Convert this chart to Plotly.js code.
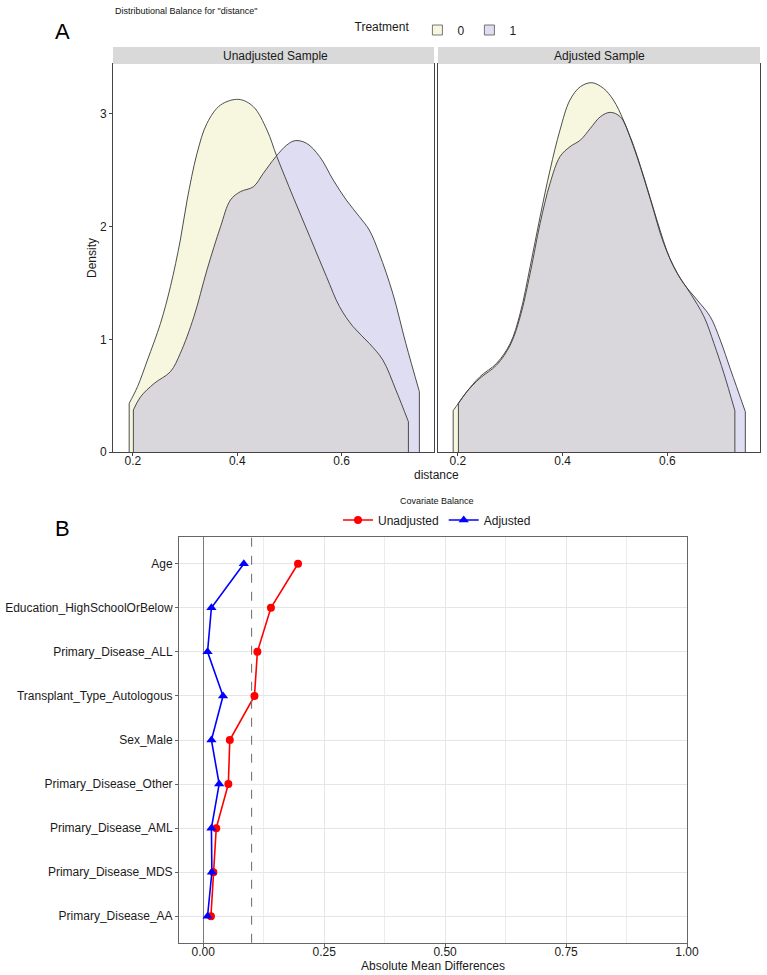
<!DOCTYPE html>
<html>
<head>
<meta charset="utf-8">
<script src="https://cdn.plot.ly/plotly-3.0.1.min.js"></script>
<style>
  html, body { margin: 0; padding: 0; background: #ffffff; }
  #chart { width: 767px; height: 975px; }
</style>
</head>
<body>
<div id="chart"></div>
<script>
// ---- Panel A: propensity-score ("distance") densities by treatment ----
const unadjX0 = [0.193, 0.209, 0.228, 0.253, 0.272, 0.291, 0.304, 0.323, 0.342, 0.368, 0.403, 0.431, 0.457, 0.476, 0.507, 0.539, 0.571, 0.596, 0.622, 0.653, 0.679, 0.704, 0.728];
const unadjY0 = [0.432, 0.580, 0.816, 1.142, 1.467, 1.881, 2.236, 2.650, 2.916, 3.079, 3.129, 3.064, 2.857, 2.621, 2.265, 1.911, 1.556, 1.290, 1.112, 0.964, 0.816, 0.550, 0.269];
const unadjX1 = [0.201, 0.215, 0.241, 0.272, 0.291, 0.317, 0.342, 0.368, 0.387, 0.406, 0.431, 0.450, 0.474, 0.495, 0.511, 0.533, 0.558, 0.584, 0.609, 0.634, 0.653, 0.672, 0.698, 0.723, 0.749];
const unadjY1 = [0.373, 0.491, 0.609, 0.713, 0.876, 1.201, 1.615, 1.999, 2.236, 2.310, 2.354, 2.473, 2.621, 2.724, 2.763, 2.739, 2.621, 2.413, 2.236, 2.088, 1.970, 1.763, 1.408, 0.964, 0.535];
const adjX0 = [0.191, 0.201, 0.217, 0.242, 0.274, 0.300, 0.319, 0.338, 0.357, 0.376, 0.395, 0.414, 0.434, 0.456, 0.478, 0.497, 0.516, 0.542, 0.568, 0.593, 0.619, 0.644, 0.670, 0.689, 0.708, 0.729];
const adjY0 = [0.367, 0.432, 0.535, 0.668, 0.787, 0.964, 1.231, 1.644, 2.088, 2.502, 2.857, 3.123, 3.242, 3.277, 3.227, 3.123, 2.946, 2.621, 2.236, 1.852, 1.586, 1.408, 1.201, 0.964, 0.698, 0.367];
const adjX1 = [0.201, 0.217, 0.242, 0.274, 0.300, 0.319, 0.338, 0.357, 0.376, 0.395, 0.414, 0.434, 0.453, 0.472, 0.491, 0.510, 0.529, 0.555, 0.580, 0.606, 0.631, 0.657, 0.682, 0.701, 0.721, 0.749];
const adjY1 = [0.432, 0.535, 0.654, 0.772, 0.949, 1.201, 1.586, 2.029, 2.384, 2.621, 2.709, 2.768, 2.872, 2.975, 3.014, 2.975, 2.798, 2.443, 2.059, 1.704, 1.497, 1.349, 1.201, 0.994, 0.728, 0.358];
const treatmentLevels = ['0', '1'];
const densityTicks = [0, 1, 2, 3];
const distanceTicks = [0.2, 0.4, 0.6];

// ---- Panel B: covariate balance (absolute mean differences) ----
const covariates = ['Age', 'Education_HighSchoolOrBelow', 'Primary_Disease_ALL', 'Transplant_Type_Autologous', 'Sex_Male', 'Primary_Disease_Other', 'Primary_Disease_AML', 'Primary_Disease_MDS', 'Primary_Disease_AA'];
const unadjustedDiff = [0.196, 0.140, 0.112, 0.106, 0.055, 0.052, 0.027, 0.021, 0.016];
const adjustedDiff = [0.084, 0.017, 0.009, 0.041, 0.017, 0.033, 0.017, 0.018, 0.009];
const balanceThreshold = 0.1;
const amdTicks = [0, 0.25, 0.5, 0.75, 1];
const amdTickText = ['0.00', '0.25', '0.50', '0.75', '1.00'];

// ---- page geometry helpers (pixel -> paper fraction) ----
const W = 767, H = 975;
const fx = p => p / W;
const fy = p => 1 - p / H;

const FONT = '"Liberation Sans", Arial, Helvetica, sans-serif';
const TXT = '#1a1a1a';
const FILL0 = 'rgb(247,246,222)';
const FILL1 = 'rgba(166,161,216,0.36)';
const OUTLINE = '#3a3a3a';
const SMOOTH = 1.0;

// filled area under a density curve (outlines are drawn on top separately)
function densityArea(xs, ys, fill, xa, ya) {
  return {
    type: 'scatter', mode: 'lines', x: xs, y: ys, xaxis: xa, yaxis: ya,
    fill: 'tozeroy', fillcolor: fill,
    line: { shape: 'spline', smoothing: SMOOTH, width: 0, color: 'rgba(0,0,0,0)' },
    showlegend: false, hoverinfo: 'skip'
  };
}
// curve outline plus the vertical edges at both ends of the estimate
function densityOutline(xs, ys, xa, ya) {
  const n = xs.length - 1;
  return [
    { type: 'scatter', mode: 'lines', x: xs, y: ys, xaxis: xa, yaxis: ya,
      line: { shape: 'spline', smoothing: SMOOTH, width: 0.9, color: OUTLINE },
      showlegend: false, hoverinfo: 'skip' },
    { type: 'scatter', mode: 'lines', xaxis: xa, yaxis: ya,
      x: [xs[0], xs[0], null, xs[n], xs[n]],
      y: [0, ys[0], null, ys[n], 0],
      line: { width: 0.9, color: OUTLINE },
      showlegend: false, hoverinfo: 'skip' }
  ];
}
// boxed legend key for a treatment level (no points of its own)
function treatmentKey(name, fill) {
  return {
    type: 'scatter', mode: 'markers', x: [null], y: [null], xaxis: 'x', yaxis: 'y',
    name: name, legend: 'legend', showlegend: true, hoverinfo: 'skip',
    marker: { symbol: 'square', size: 10, color: fill, line: { color: '#555', width: 0.8 } }
  };
}

const traces = [
  densityArea(unadjX0, unadjY0, FILL0, 'x', 'y'),
  densityArea(unadjX1, unadjY1, FILL1, 'x', 'y'),
  densityArea(adjX0, adjY0, FILL0, 'x2', 'y2'),
  densityArea(adjX1, adjY1, FILL1, 'x2', 'y2'),
  ...densityOutline(unadjX0, unadjY0, 'x', 'y'),
  ...densityOutline(unadjX1, unadjY1, 'x', 'y'),
  ...densityOutline(adjX0, adjY0, 'x2', 'y2'),
  ...densityOutline(adjX1, adjY1, 'x2', 'y2'),
  treatmentKey(treatmentLevels[0], FILL0),
  treatmentKey(treatmentLevels[1], FILL1),
  {
    type: 'scatter', mode: 'lines+markers', name: 'Unadjusted', legend: 'legend2',
    x: unadjustedDiff, y: covariates, xaxis: 'x3', yaxis: 'y3',
    line: { color: '#ff0000', width: 1.6 },
    marker: { symbol: 'circle', size: 8, color: '#ff0000' }
  },
  {
    type: 'scatter', mode: 'lines+markers', name: 'Adjusted', legend: 'legend2',
    x: adjustedDiff, y: covariates, xaxis: 'x3', yaxis: 'y3',
    line: { color: '#0000ff', width: 1.6 },
    marker: { symbol: 'triangle-up', size: 9, color: '#0000ff' }
  }
];

const densAxisY = {
  range: [0, 3.443], showgrid: false, zeroline: false,
  showline: true, mirror: true, linecolor: '#444', linewidth: 1,
  ticks: 'outside', ticklen: 3, tickcolor: '#444',
  tickfont: { size: 12, color: TXT }
};
const densAxisX = {
  range: [0.162, 0.777], showgrid: false, zeroline: false,
  showline: true, mirror: true, linecolor: '#444', linewidth: 1,
  ticks: 'outside', ticklen: 3, tickcolor: '#444', ticklabelstandoff: -5,
  tickvals: distanceTicks, ticktext: distanceTicks.map(v => v.toFixed(1)),
  tickfont: { size: 12, color: TXT }
};

const layout = {
  width: W, height: H,
  margin: { l: 0, r: 0, t: 0, b: 0 },
  paper_bgcolor: '#ffffff', plot_bgcolor: '#ffffff',
  font: { family: FONT, color: TXT, size: 12 },
  xaxis: Object.assign({}, densAxisX, { domain: [fx(113), fx(434)], anchor: 'y' }),
  yaxis: Object.assign({}, densAxisY, {
    domain: [fy(452), fy(64)], anchor: 'x',
    tickvals: densityTicks, ticktext: densityTicks.map(String),
    title: { text: 'Density', font: { size: 12, color: TXT }, standoff: 0 }
  }),
  xaxis2: Object.assign({}, densAxisX, { domain: [fx(438), fx(760)], anchor: 'y2' }),
  yaxis2: Object.assign({}, densAxisY, {
    domain: [fy(452), fy(64)], anchor: 'x2',
    showticklabels: false, ticks: ''
  }),
  xaxis3: {
    domain: [fx(179), fx(687)], anchor: 'y3', range: [-0.05, 1.0],
    tickvals: amdTicks, ticktext: amdTickText,
    showgrid: true, gridcolor: '#e6e6e6', gridwidth: 1,
    minor: { tickvals: [0.125, 0.375, 0.625, 0.875], showgrid: true, gridcolor: '#ececec', gridwidth: 1 },
    zeroline: true, zerolinecolor: '#7a7a7a', zerolinewidth: 1,
    showline: true, mirror: true, linecolor: '#666', linewidth: 1,
    ticks: 'outside', ticklen: 3, tickcolor: '#666', ticklabelstandoff: -5,
    tickfont: { size: 12, color: TXT },
    title: { text: 'Absolute Mean Differences', font: { size: 12, color: TXT }, standoff: 2 }
  },
  yaxis3: {
    domain: [fy(942.7), fy(537.3)], anchor: 'x3', type: 'category',
    categoryorder: 'array', categoryarray: covariates,
    range: [covariates.length - 0.4, -0.6],
    showgrid: true, gridcolor: '#e6e6e6', gridwidth: 1,
    showline: true, mirror: true, linecolor: '#666', linewidth: 1,
    ticks: 'outside', ticklen: 3, tickcolor: '#666',
    tickfont: { size: 12, color: TXT }
  },
  legend: {
    orientation: 'h', x: fx(437), xanchor: 'center', y: fy(30), yanchor: 'middle',
    title: { text: 'Treatment', side: 'left', font: { size: 12, color: TXT } },
    font: { size: 12, color: TXT }, itemwidth: 30,
    bgcolor: 'rgba(0,0,0,0)'
  },
  legend2: {
    orientation: 'h', x: fx(437), xanchor: 'center', y: fy(520), yanchor: 'middle',
    font: { size: 12, color: TXT }, itemwidth: 30,
    bgcolor: 'rgba(0,0,0,0)'
  },
  shapes: [
    // facet strips
    { type: 'rect', xref: 'paper', yref: 'paper', x0: fx(113), x1: fx(434), y0: fy(64), y1: fy(47),
      fillcolor: '#d9d9d9', line: { width: 0 } },
    { type: 'rect', xref: 'paper', yref: 'paper', x0: fx(438), x1: fx(760), y0: fy(64), y1: fy(47),
      fillcolor: '#d9d9d9', line: { width: 0 } },
    // balance threshold
    { type: 'line', xref: 'x3', yref: 'y3 domain', x0: balanceThreshold, x1: balanceThreshold, y0: 0, y1: 1,
      line: { color: '#777', width: 1.1, dash: 'dash' } }
  ],
  annotations: [
    { text: 'Distributional Balance for "distance"', xref: 'paper', yref: 'paper',
      x: fx(113), y: fy(11), xanchor: 'left', yanchor: 'middle', showarrow: false,
      font: { size: 9, color: '#111' } },
    { text: 'A', xref: 'paper', yref: 'paper', x: fx(62), y: fy(31), xanchor: 'center', yanchor: 'middle',
      showarrow: false, font: { size: 22, color: '#000' } },
    { text: 'B', xref: 'paper', yref: 'paper', x: fx(62), y: fy(528), xanchor: 'center', yanchor: 'middle',
      showarrow: false, font: { size: 22, color: '#000' } },
    { text: 'Unadjusted Sample', xref: 'paper', yref: 'paper', x: fx(275), y: fy(55.5),
      xanchor: 'center', yanchor: 'middle', showarrow: false, font: { size: 12, color: TXT } },
    { text: 'Adjusted Sample', xref: 'paper', yref: 'paper', x: fx(599), y: fy(55.5),
      xanchor: 'center', yanchor: 'middle', showarrow: false, font: { size: 12, color: TXT } },
    { text: 'distance', xref: 'paper', yref: 'paper', x: fx(436), y: fy(475),
      xanchor: 'center', yanchor: 'middle', showarrow: false, font: { size: 12, color: TXT } },
    { text: 'Covariate Balance', xref: 'paper', yref: 'paper', x: fx(437), y: fy(501),
      xanchor: 'center', yanchor: 'middle', showarrow: false, font: { size: 9, color: '#111' } }
  ],
  showlegend: true
};

Plotly.newPlot('chart', traces, layout, { displayModeBar: false, staticPlot: true });
</script>
</body>
</html>
